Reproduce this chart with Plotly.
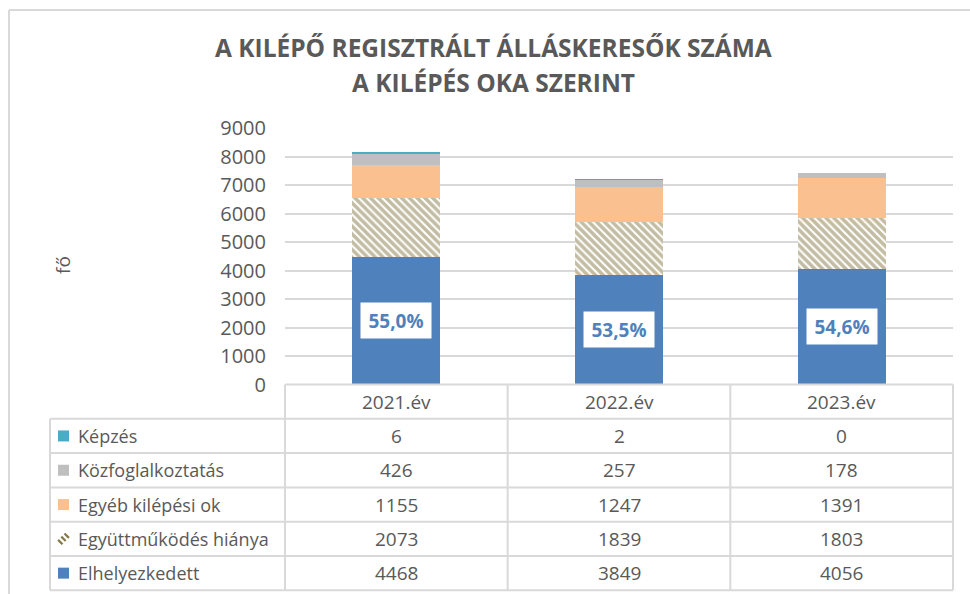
import plotly.graph_objects as go

# ---------------- data ----------------
years = ["2021.év", "2022.év", "2023.év"]
elhelyezkedett = [4468, 3849, 4056]
egyuttmukodes = [2073, 1839, 1803]
egyeb = [1155, 1247, 1391]
kozfoglalkoztatas = [426, 257, 178]
kepzes = [6, 2, 0]

series_names = ["Elhelyezkedett", "Együttműködés hiánya", "Egyéb kilépési ok",
                "Közfoglalkoztatás", "Képzés"]
series_values = [elhelyezkedett, egyuttmukodes, egyeb, kozfoglalkoztatas, kepzes]
y_ticks = [0, 1000, 2000, 3000, 4000, 5000, 6000, 7000, 8000, 9000]

title_lines = ["A KILÉPŐ REGISZTRÁLT ÁLLÁSKERESŐK SZÁMA", "A KILÉPÉS OKA SZERINT"]
y_title = "fő"

# ---------------- styles ----------------
W, H = 970, 594
FONT = "Open Sans"
GRAY = "#595959"
LINE = "#d9d9d9"
BLUE = "#4f81bd"
OLIVE = "#857a46"
colors = {
    "Elhelyezkedett": BLUE,
    "Egyéb kilépési ok": "#fac090",
    "Közfoglalkoztatás": "#bfbfbf",
    "Képzés": "#4bacc6",
}


def px(x):
    return x / W


def py(y):
    return 1 - y / H


fig = go.Figure()
for name, vals in zip(series_names, series_values):
    if name == "Együttműködés hiánya":
        marker = dict(color="white",
                      pattern=dict(shape="\\", fgcolor=OLIVE, bgcolor="white",
                                   size=5.5, solidity=0.65, fillmode="overlay"),
                      line=dict(width=0))
    else:
        marker = dict(color=colors[name], line=dict(width=0))
    fig.add_trace(go.Bar(x=years, y=vals, name=name, marker=marker,
                         width=0.395, showlegend=False, hoverinfo="skip"))

# plot area
x0p, x1p = 285, 953
y_top, y_bot = 128, 384.5

fig.update_layout(
    width=W, height=H,
    margin=dict(l=0, r=0, t=0, b=0, autoexpand=False),
    paper_bgcolor="white", plot_bgcolor="white",
    barmode="stack",
    font=dict(family=FONT, color=GRAY),
    xaxis=dict(domain=[px(x0p), px(x1p)], range=[-0.5, 2.5],
               showticklabels=False, showgrid=False, zeroline=False,
               showline=False, ticks="", automargin=False),
    yaxis=dict(domain=[py(y_bot), py(y_top)], range=[0, 9000],
               tickvals=y_ticks, showgrid=True, gridcolor=LINE, gridwidth=2,
               zeroline=False, showline=False, ticks="", automargin=False,
               tickfont=dict(family=FONT, size=20, color=GRAY),
               ticklabelstandoff=18),
)

shapes = []
annotations = []

# chart border (extends beyond right/bottom edges)
shapes.append(dict(type="line", xref="paper", yref="paper",
                   x0=px(9), x1=px(970), y0=py(10), y1=py(10),
                   line=dict(color=LINE, width=2)))
shapes.append(dict(type="line", xref="paper", yref="paper",
                   x0=px(9), x1=px(9), y0=py(10), y1=py(594),
                   line=dict(color=LINE, width=2)))

# title
for txt, yy in zip(title_lines, [47, 82]):
    annotations.append(dict(text=f"<b>{txt}</b>", xref="paper", yref="paper",
                            x=px(494), y=py(yy), xanchor="center", yanchor="middle",
                            showarrow=False,
                            font=dict(family=FONT, size=24.5, color=GRAY)))

# y axis title
annotations.append(dict(text=y_title, xref="paper", yref="paper",
                        x=px(63), y=py(265), textangle=-90, showarrow=False,
                        xanchor="center", yanchor="middle",
                        font=dict(family=FONT, size=19, color=GRAY)))

# percentage labels for Elhelyezkedett
totals = [sum(v[i] for v in series_values) for i in range(len(years))]
for i, yr in enumerate(years):
    pct = elhelyezkedett[i] / totals[i] * 100
    label = f"{pct:.1f}%".replace(".", ",")
    annotations.append(dict(text=f"<b>{label}</b>", x=yr, y=elhelyezkedett[i] / 2,
                            xref="x", yref="y", showarrow=False,
                            bgcolor="white", width=68, height=33,
                            font=dict(family=FONT, size=19, color=BLUE)))

# ---------------- data table ----------------
row_h = 34.3
rows_y = [y_bot + row_h * k for k in range(7)]
col_x = [x0p + (x1p - x0p) * k / 3 for k in range(4)]
left_x = 50

for k, yy in enumerate(rows_y):
    xs = x0p if k == 0 else left_x
    shapes.append(dict(type="line", xref="paper", yref="paper",
                       x0=px(xs), x1=px(x1p), y0=py(yy), y1=py(yy),
                       line=dict(color=LINE, width=2)))
for cx in col_x:
    shapes.append(dict(type="line", xref="paper", yref="paper",
                       x0=px(cx), x1=px(cx), y0=py(rows_y[0]), y1=py(rows_y[-1]),
                       line=dict(color=LINE, width=2)))
shapes.append(dict(type="line", xref="paper", yref="paper",
                   x0=px(left_x), x1=px(left_x), y0=py(rows_y[1]), y1=py(rows_y[-1]),
                   line=dict(color=LINE, width=2)))

LFONT = dict(family=FONT, size=18, color=GRAY)
NFONT = dict(family=FONT, size=19, color=GRAY)
for yr in years:
    annotations.append(dict(text=yr, x=yr, xref="x", yref="paper",
                            y=py((rows_y[0] + rows_y[1]) / 2), showarrow=False,
                            xanchor="center", yanchor="middle", font=NFONT))

table_order = list(reversed(range(len(series_names))))
for r, si in enumerate(table_order):
    name = series_names[si]
    vals = series_values[si]
    yc = (rows_y[r + 1] + rows_y[r + 2]) / 2
    annotations.append(dict(text=name, x=px(76), y=py(yc), xref="paper", yref="paper",
                            xanchor="left", yanchor="middle", showarrow=False,
                            font=LFONT))
    sx0, sx1 = 58, 69
    if name == "Együttműködés hiánya":
        cx, cy = (sx0 + sx1) / 2, yc
        for off in [-3.2, 0, 3.2]:
            mx, my = cx + off, cy - off
            shapes.append(dict(type="line", xref="paper", yref="paper",
                               x0=px(mx - 2.2), x1=px(mx + 2.2),
                               y0=py(my - 2.2), y1=py(my + 2.2),
                               line=dict(color=OLIVE, width=2.2)))
    else:
        shapes.append(dict(type="rect", xref="paper", yref="paper",
                           x0=px(sx0), x1=px(sx1), y0=py(yc - 5.5), y1=py(yc + 5.5),
                           fillcolor=colors[name], line=dict(width=0)))
    for i, yr in enumerate(years):
        annotations.append(dict(text=str(vals[i]), x=yr, xref="x", yref="paper",
                                y=py(yc), showarrow=False,
                                xanchor="center", yanchor="middle", font=NFONT))

fig.update_layout(shapes=shapes, annotations=annotations)
fig.write_html("out.html",
               config={"displayModeBar": False},
               post_script="document.body.style.margin='0';"
                           "document.body.style.overflow='hidden';")
